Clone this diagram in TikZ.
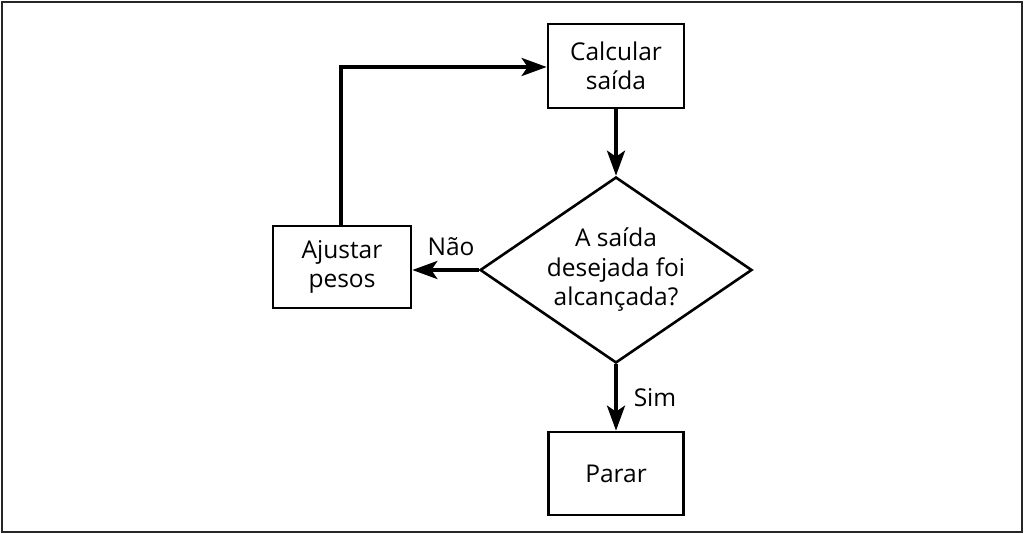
\documentclass[tikz,border=0pt]{standalone}
\usepackage{fontspec}
\setmainfont{Open Sans}
\usetikzlibrary{shapes.geometric,arrows.meta}
\begin{document}
\begin{tikzpicture}[x=1pt,y=-1pt,
  txt/.style={font=\fontsize{24.5}{29.5}\selectfont, align=center},
  box/.style={draw, line width=2.7pt, rectangle, inner sep=0pt, txt},
  conn/.style={line width=3.6pt, -{Stealth[length=25pt,width=18pt,inset=6pt]}},
  lbl/.style={font=\fontsize{24.5}{29}\selectfont, inner sep=0pt}]
\useasboundingbox (0,0) rectangle (1024,534);
\draw[line width=2.6pt, black!85] (2,2) rectangle (1022,532);
\node[box, minimum width=136pt, minimum height=84pt] (calc) at (616,66) {Calcular\\sa\'ida};
\node[draw, line width=2.6pt, diamond, minimum width=272pt, minimum height=186pt, inner sep=0pt] (dec) at (616,270) {};
\node[txt] (dectext) at (dec.center) {A sa\'ida\\desejada foi\\alcan\c{c}ada?};
\node[box, minimum width=138pt, minimum height=82pt] (adj) at (342,267) {Ajustar\\pesos};
\node[box, minimum width=135pt, minimum height=83pt] (stop) at (616,473.5) {Parar};
\draw[conn] (calc.south) -- (dec.north);
\draw[conn] (dec.west) -- (adj.east |- dec.west);
\draw[conn] (dec.south) -- (stop.north);
\draw[conn] (341,0 |- adj.north) -- (341,67) -- (calc.west |- 0,67);
\node[lbl] (nao) at (451,247) {N\~ao};
\node[lbl] (sim) at (655,398) {Sim};
\end{tikzpicture}
\end{document}
